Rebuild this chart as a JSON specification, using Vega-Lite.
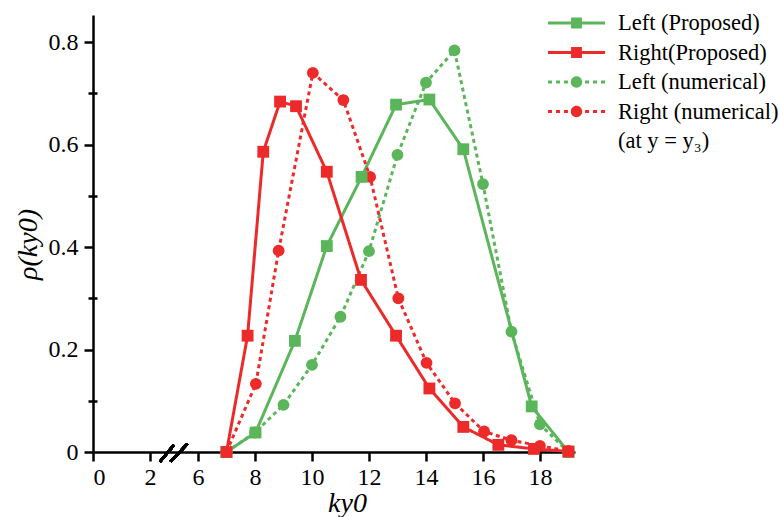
{
  "$schema": "https://vega.github.io/schema/vega-lite/v6.json",
  "width": 482,
  "height": 437,
  "autosize": {"type": "none"},
  "padding": {"left": 93, "top": 15, "right": 204, "bottom": 65},
  "background": "white",
  "config": {
    "view": {"stroke": null},
    "font": "Liberation Serif",
    "legend": {"labelFont": "Liberation Serif"}
  },
  "data": {
    "values": [
      {"series": "Left (numerical)", "k": 7, "rho": 0},
      {"series": "Left (numerical)", "k": 8, "rho": 0.038},
      {"series": "Left (numerical)", "k": 9, "rho": 0.092},
      {"series": "Left (numerical)", "k": 10, "rho": 0.17},
      {"series": "Left (numerical)", "k": 11, "rho": 0.264},
      {"series": "Left (numerical)", "k": 12, "rho": 0.392},
      {"series": "Left (numerical)", "k": 13, "rho": 0.58},
      {"series": "Left (numerical)", "k": 14, "rho": 0.721},
      {"series": "Left (numerical)", "k": 15, "rho": 0.784},
      {"series": "Left (numerical)", "k": 16, "rho": 0.523},
      {"series": "Left (numerical)", "k": 17, "rho": 0.235},
      {"series": "Left (numerical)", "k": 18, "rho": 0.054},
      {"series": "Left (numerical)", "k": 19, "rho": 0},

      {"series": "Left (Proposed)", "k": 7, "rho": 0},
      {"series": "Left (Proposed)", "k": 8.02, "rho": 0.038},
      {"series": "Left (Proposed)", "k": 9.4, "rho": 0.217},
      {"series": "Left (Proposed)", "k": 10.52, "rho": 0.402},
      {"series": "Left (Proposed)", "k": 11.74, "rho": 0.537},
      {"series": "Left (Proposed)", "k": 12.95, "rho": 0.678},
      {"series": "Left (Proposed)", "k": 14.12, "rho": 0.688},
      {"series": "Left (Proposed)", "k": 15.31, "rho": 0.591},
      {"series": "Left (Proposed)", "k": 17.71, "rho": 0.089},
      {"series": "Left (Proposed)", "k": 19, "rho": 0},

      {"series": "Right (numerical)", "k": 7, "rho": 0},
      {"series": "Right (numerical)", "k": 8.03, "rho": 0.133},
      {"series": "Right (numerical)", "k": 8.83, "rho": 0.393},
      {"series": "Right (numerical)", "k": 10.03, "rho": 0.74},
      {"series": "Right (numerical)", "k": 11.1, "rho": 0.687},
      {"series": "Right (numerical)", "k": 12.04, "rho": 0.537},
      {"series": "Right (numerical)", "k": 13.03, "rho": 0.3},
      {"series": "Right (numerical)", "k": 14.02, "rho": 0.174},
      {"series": "Right (numerical)", "k": 15.02, "rho": 0.095},
      {"series": "Right (numerical)", "k": 16.04, "rho": 0.04},
      {"series": "Right (numerical)", "k": 17, "rho": 0.023},
      {"series": "Right (numerical)", "k": 18, "rho": 0.012},
      {"series": "Right (numerical)", "k": 19, "rho": 0.002},

      {"series": "Right(Proposed)", "k": 7, "rho": 0},
      {"series": "Right(Proposed)", "k": 7.74, "rho": 0.227},
      {"series": "Right(Proposed)", "k": 8.29, "rho": 0.586},
      {"series": "Right(Proposed)", "k": 8.88, "rho": 0.684},
      {"series": "Right(Proposed)", "k": 9.44, "rho": 0.675},
      {"series": "Right(Proposed)", "k": 10.52, "rho": 0.547},
      {"series": "Right(Proposed)", "k": 11.72, "rho": 0.336},
      {"series": "Right(Proposed)", "k": 12.95, "rho": 0.227},
      {"series": "Right(Proposed)", "k": 14.12, "rho": 0.124},
      {"series": "Right(Proposed)", "k": 15.31, "rho": 0.049},
      {"series": "Right(Proposed)", "k": 16.54, "rho": 0.014},
      {"series": "Right(Proposed)", "k": 17.79, "rho": 0.006},
      {"series": "Right(Proposed)", "k": 19, "rho": 0.001}
    ]
  },
  "resolve": {"axis": {"y": "independent"}},
  "layer": [
    {
      "mark": {"type": "line", "strokeWidth": 3},
      "encoding": {
        "x": {
          "field": "k",
          "type": "quantitative",
          "scale": {"domain": [0, 2, 6, 19.23], "range": [0, 57, 105, 482], "nice": false, "zero": false},
          "axis": {
            "values": [0, 2, 6, 8, 10, 12, 14, 16, 18],
            "grid": false,
            "domainColor": "black",
            "domainWidth": 2.5,
            "tickColor": "black",
            "tickWidth": 2.5,
            "tickSize": 9,
            "labelColor": "black",
            "labelFontSize": 24,
            "labelPadding": 4,
            "title": "ky0",
            "titleColor": "black",
            "titleFontStyle": "italic",
            "titleFontWeight": "normal",
            "titleFontSize": 28,
            "titleX": 254,
            "titleY": 59,
            "titleBaseline": "alphabetic",
            "encode": {
              "labels": {"update": {"font": {"value": "Liberation Serif"}}},
              "title": {"update": {"font": {"value": "Liberation Serif"}}}
            }
          }
        },
        "y": {
          "field": "rho",
          "type": "quantitative",
          "scale": {"domain": [0, 0.853], "nice": false, "zero": false},
          "axis": {
            "values": [0, 0.2, 0.4, 0.6, 0.8],
            "format": ".1~f",
            "grid": false,
            "domainColor": "black",
            "domainWidth": 2.5,
            "tickColor": "black",
            "tickWidth": 2.5,
            "tickSize": 9,
            "labelColor": "black",
            "labelFontSize": 24,
            "labelPadding": 6,
            "title": "ρ(ky0)",
            "titleColor": "black",
            "titleFontStyle": "italic",
            "titleFontWeight": "normal",
            "titleFontSize": 28,
            "titleY": 229,
            "titlePadding": 6,
            "encode": {
              "labels": {"update": {"font": {"value": "Liberation Serif"}}},
              "title": {"update": {"font": {"value": "Liberation Serif"}}}
            }
          }
        },
        "color": {
          "field": "series",
          "type": "nominal",
          "scale": {
            "domain": ["Left (Proposed)", "Right(Proposed)", "Left (numerical)", "Right (numerical)", "(at y = y₃)"],
            "range": ["#5BB55B", "#ED2A2A", "#5BB55B", "#ED2A2A", "#ffffff"]
          },
          "legend": {
            "orient": "none",
            "legendX": 455,
            "legendY": -3,
            "title": null,
            "padding": 0,
            "symbolSize": 3249,
            "symbolOffset": 0,
            "clipHeight": 22,
            "rowPadding": 6.5,
            "labelOffset": 13,
            "labelFont": "Liberation Serif",
            "labelFontSize": 22.5,
            "labelColor": "black",
            "labelLimit": 300,
            "encode": {
              "symbols": {
                "update": {
                  "shape": {"signal": "(datum.value === 'Left (Proposed)' || datum.value === 'Right(Proposed)') ? 'M-1,-0.05H1V0.05H-1Z M-0.19,-0.19H0.19V0.19H-0.19Z' : (datum.value === 'Left (numerical)' || datum.value === 'Right (numerical)') ? 'M-1,-0.05H-0.86V0.05H-1Z M-0.72,-0.05H-0.58V0.05H-0.72Z M-0.44,-0.05H-0.3V0.05H-0.44Z M0.3,-0.05H0.44V0.05H0.3Z M0.58,-0.05H0.72V0.05H0.58Z M0.86,-0.05H1V0.05H0.86Z M-0.2,0A0.2,0.2 0 1,1 0.2,0A0.2,0.2 0 1,1 -0.2,0Z' : 'M0,0Z'"},
                  "fill": {"signal": "(datum.value === 'Left (Proposed)' || datum.value === 'Left (numerical)') ? '#5BB55B' : (datum.value === 'Right(Proposed)' || datum.value === 'Right (numerical)') ? '#ED2A2A' : 'transparent'"},
                  "stroke": {"value": "transparent"},
                  "strokeWidth": {"value": 0},
                  "opacity": {"value": 1}
                }
              }
            }
          }
        },
        "strokeDash": {
          "field": "series",
          "type": "nominal",
          "scale": {
            "domain": ["Left (Proposed)", "Right(Proposed)", "Left (numerical)", "Right (numerical)", "(at y = y₃)"],
            "range": [[1, 0], [1, 0], [4, 3.5], [4, 3.5], [1, 0]]
          },
          "legend": null
        }
      }
    },
    {
      "transform": [{"filter": {"field": "series", "oneOf": ["Left (numerical)", "Right (numerical)"]}}],
      "mark": {"type": "point", "shape": "circle", "filled": true, "opacity": 1, "size": 140},
      "encoding": {
        "x": {"field": "k", "type": "quantitative"},
        "y": {
          "field": "rho",
          "type": "quantitative",
          "axis": {
            "orient": "left",
            "values": [0.1, 0.3, 0.5, 0.7],
            "labels": false,
            "domain": false,
            "grid": false,
            "tickColor": "black",
            "tickWidth": 2.5,
            "tickSize": 9,
            "offset": -4,
            "title": null
          }
        },
        "color": {"field": "series", "type": "nominal", "legend": null}
      }
    },
    {
      "transform": [{"filter": {"field": "series", "oneOf": ["Left (Proposed)", "Right(Proposed)"]}}],
      "mark": {"type": "point", "shape": "square", "filled": true, "opacity": 1, "size": 140},
      "encoding": {
        "x": {"field": "k", "type": "quantitative"},
        "y": {"field": "rho", "type": "quantitative", "axis": null},
        "color": {"field": "series", "type": "nominal", "legend": null}
      }
    },
    {
      "mark": {"type": "rule", "color": "black", "strokeWidth": 2.5},
      "encoding": {
        "x": {"datum": 2.83, "type": "quantitative"},
        "x2": {"datum": 4.0},
        "y": {"datum": -0.019, "type": "quantitative", "axis": null},
        "y2": {"datum": 0.014}
      }
    },
    {
      "mark": {"type": "rule", "color": "black", "strokeWidth": 2.5},
      "encoding": {
        "x": {"datum": 3.72, "type": "quantitative"},
        "x2": {"datum": 5.11},
        "y": {"datum": -0.019, "type": "quantitative", "axis": null},
        "y2": {"datum": 0.016}
      }
    }
  ]
}
